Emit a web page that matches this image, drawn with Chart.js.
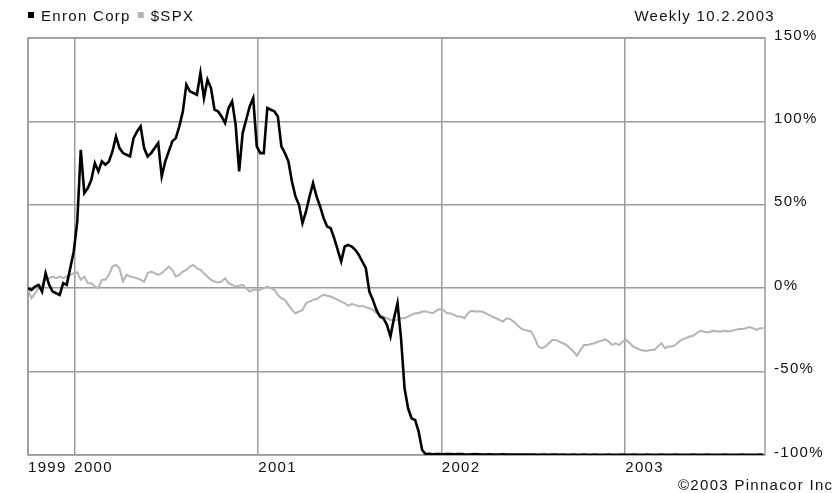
<!DOCTYPE html>
<html>
<head>
<meta charset="utf-8">
<title>Enron Corp vs $SPX</title>
<script src="https://cdn.jsdelivr.net/npm/chart.js@4.4.1/dist/chart.umd.min.js"></script>
<style>
  html, body { margin: 0; padding: 0; background: #ffffff; }
  #wrap { width: 834px; height: 493px; position: relative; }
</style>
</head>
<body>
<div id="wrap"><canvas id="chart" width="834" height="493"></canvas></div>
<script>
// Weekly closes, % change since the first week
const startDate = '1999-10-01';
const endDate = '2003-10-06';
const yearTickDates = ['1999-10-01', '2000-01-01', '2001-01-01', '2002-01-01', '2003-01-01'];
const yearTickLabels = ['1999', '2000', '2001', '2002', '2003'];
const percentTicks = [-100, -50, 0, 50, 100, 150];
const seriesNames = ['Enron Corp', '$SPX'];
const headerText = 'Weekly 10.2.2003';
const creditText = '\u00A92003 Pinnacor Inc';

const enron = [
  0, -1, 1, 2, -2, 9, 2, -2, -3, -4,
  3, 2, 12, 22, 40, 83, 57, 60, 65, 75,
  70, 76, 74, 76, 82, 91, 84, 81, 80, 79,
  90, 94, 97, 84, 79, 81, 84, 87, 67, 76,
  82, 88, 90, 97, 106, 122, 118, 117, 116, 129,
  114, 125, 120, 107, 106, 103, 99, 108, 112, 98,
  70, 93, 101, 109, 114, 85, 81, 81, 108, 107,
  106, 103, 85, 81, 76, 64, 55, 50, 39, 46,
  55, 63, 55, 49, 42, 37, 36, 30, 23, 16,
  25, 26, 25, 23, 20, 16, 12, -2, -7, -13,
  -17, -18, -22, -29, -18, -9, -30, -60, -72, -78,
  -79, -86, -97, -99.5, -99.3, -99.6, -99.4, -99.5, -99.6, -99.4,
  -99.5, -99.6, -99.5, -99.4, -99.6, -99.7, -99.6, -99.5, -99.6, -99.7,
  -99.7, -99.6, -99.7, -99.8, -99.7, -99.6, -99.7, -99.8, -99.8, -99.7,
  -99.8, -99.8, -99.7, -99.8, -99.8, -99.9, -99.8, -99.8, -99.9, -99.8,
  -99.8, -99.9, -99.8, -99.9, -99.9, -99.8, -99.9, -99.9, -99.8, -99.9,
  -99.9, -99.8, -99.9, -99.9, -99.9, -99.8, -99.9, -99.9, -99.9, -99.8,
  -99.9, -99.9, -99.8, -99.9, -99.9, -99.9, -99.8, -99.9, -99.9, -99.9,
  -99.8, -99.9, -99.9, -99.9, -99.8, -99.9, -99.9, -99.9, -99.9, -99.8,
  -99.9, -99.9, -99.9, -99.8, -99.9, -99.9, -99.9, -99.9, -99.8, -99.9,
  -99.9, -99.9, -99.9, -99.8, -99.9, -99.9, -99.9, -99.9, -99.8, -99.9
];

const spx = [
  -1, -6, -3, 0, 2, 5, 6, 7, 6, 7,
  6, 7, 8, 9, 9.5, 5, 7, 3, 3, 1,
  0, 5, 5, 8, 13, 14, 12, 4, 8, 7,
  6.5, 6, 5, 4, 9, 10, 9, 8, 9, 11,
  13, 11, 7, 8, 10, 11, 13, 14, 12, 11,
  9, 7, 5, 4, 3.5, 4, 6, 3, 2, 1,
  1.5, 2, 0, -2, -1, -1, -1, 0, 1, 0,
  -1, -4, -6, -7, -10, -13, -15, -14, -13, -9,
  -8, -7, -6.5, -5, -4, -4.5, -5, -6, -7, -8,
  -9, -10.5, -9.5, -10, -11, -10.5, -11.5, -12, -13, -15,
  -16, -17, -18, -19, -19, -19, -18, -18, -17, -16,
  -15, -15, -14, -14, -14.5, -15, -13.5, -12.5, -13, -15,
  -15, -16, -17, -17, -18, -15, -13.5, -14, -14, -14,
  -15, -16, -17, -18, -19, -20, -18, -18.5, -20, -22,
  -24, -25, -25.5, -26, -30, -35, -36, -35, -33, -31,
  -31, -32, -33, -34, -36, -38, -40.5, -37, -34, -34,
  -33.5, -33, -32, -31.5, -30.5, -32, -34, -33, -34, -32,
  -31, -33, -35, -36, -37, -37.5, -37.5, -37, -37, -35,
  -33, -36, -35, -35, -34, -32, -30.5, -30, -29, -28.5,
  -27, -25.5, -26, -26.5, -26, -25.5, -26, -26, -25.5, -26,
  -25.5, -25, -24.5, -24.5, -24, -23.3, -24, -25, -24, -24
];

const DAY = 86400000;
const dayOf = d => (Date.parse(d) - Date.parse(startDate)) / DAY;
const weekly = arr => arr.map((v, i) => ({ x: i * 7, y: v }));
const yearTickDays = yearTickDates.map(dayOf);

const FONT = '15px "Liberation Sans", Arial, sans-serif';
const TRACK = '1.3px';
const GRID = '#9c9c9c';

// frame, legend, header and credit line
const decor = {
  id: 'decor',
  beforeDraw(chart) {
    chart.ctx.letterSpacing = TRACK;
  },
  beforeDatasetsDraw(chart) {
    const { ctx, chartArea: a } = chart;
    ctx.save();
    ctx.strokeStyle = GRID;
    ctx.lineWidth = 1.5;
    ctx.strokeRect(a.left, a.top, a.right - a.left, a.bottom - a.top);
    ctx.restore();
  },
  afterDraw(chart) {
    const { ctx, chartArea: a } = chart;
    ctx.save();
    ctx.letterSpacing = TRACK;
    ctx.font = FONT;
    ctx.fillStyle = '#111';
    ctx.textBaseline = 'alphabetic';
    // legend
    const ds = chart.data.datasets;
    let x = a.left;
    ds.forEach(d => {
      ctx.fillStyle = d.borderColor;
      ctx.fillRect(x, 12, 6, 6);
      ctx.fillStyle = '#111';
      ctx.textAlign = 'left';
      ctx.fillText(d.label, x + 13, 21);
      x += 13 + ctx.measureText(d.label).width + 7;
    });
    ctx.textAlign = 'right';
    ctx.fillText(headerText, 775, 21);
    ctx.textAlign = 'left';
    ctx.fillText(creditText, 678, 490);
    ctx.restore();
  }
};

new Chart(document.getElementById('chart'), {
  type: 'line',
  data: {
    datasets: [
      { label: seriesNames[0], data: weekly(enron), borderColor: '#000000', borderWidth: 2.6,
        pointRadius: 0, tension: 0, fill: false },
      { label: seriesNames[1], data: weekly(spx), borderColor: '#b4b4b4', borderWidth: 2,
        pointRadius: 0, tension: 0, fill: false }
    ]
  },
  options: {
    responsive: false,
    animation: false,
    devicePixelRatio: 1,
    layout: { padding: { left: 28, top: 38, right: 0, bottom: 0 } },
    plugins: { legend: { display: false }, tooltip: { enabled: false }, title: { display: false } },
    scales: {
      x: {
        type: 'linear',
        min: 0,
        max: dayOf(endDate),
        afterBuildTicks(scale) { scale.ticks = yearTickDays.map(v => ({ value: v })); },
        afterFit(scale) { scale.height = 38; },
        grid: { color: GRID, lineWidth: 1.5, drawTicks: false },
        border: { display: false },
        ticks: {
          autoSkip: false,
          maxRotation: 0,
          align: 'start',
          padding: 4,
          color: '#111',
          font: { family: '"Liberation Sans", Arial, sans-serif', size: 15 },
          callback(v) {
            const k = yearTickDays.indexOf(v);
            return k >= 0 ? yearTickLabels[k] : '';
          }
        }
      },
      y: {
        position: 'right',
        min: -100,
        max: 150,
        afterBuildTicks(scale) { scale.ticks = percentTicks.map(v => ({ value: v })); },
        afterFit(scale) { scale.width = 69; },
        grid: { color: GRID, lineWidth: 1.5, drawTicks: false },
        border: { display: false },
        ticks: {
          padding: 9,
          labelOffset: -2.5,
          color: '#111',
          font: { family: '"Liberation Sans", Arial, sans-serif', size: 15 },
          callback: v => v + '%'
        }
      }
    }
  },
  plugins: [decor]
});
</script>
</body>
</html>
